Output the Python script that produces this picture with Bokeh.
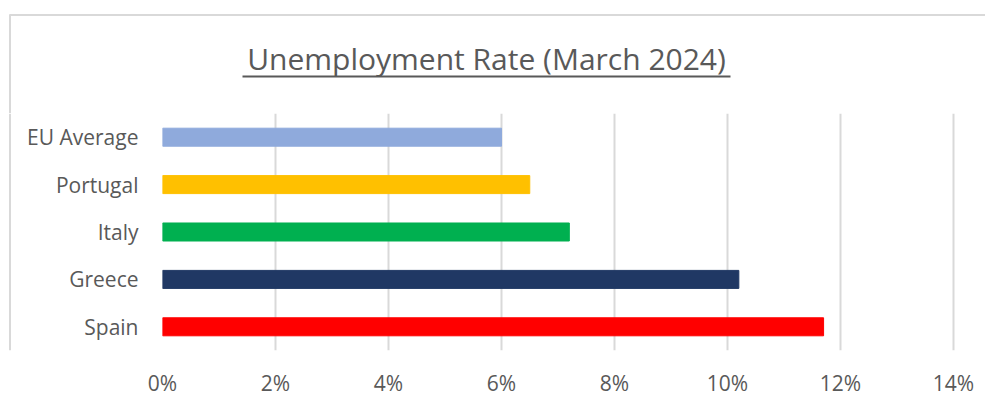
from bokeh.plotting import figure
from bokeh.layouts import column, row
from bokeh.models import ColumnDataSource, FactorRange, Range1d, FixedTicker, CustomJSTickFormatter
from bokeh.core.properties import value
from bokeh.embed import file_html
from bokeh.resources import INLINE

countries = ["Spain", "Greece", "Italy", "Portugal", "EU Average"]
rates = [11.7, 10.2, 7.2, 6.5, 6.0]
colors = ["#FF0000", "#203864", "#00B050", "#FFC000", "#8FAADC"]
x_ticks = [0, 2, 4, 6, 8, 10, 12, 14]
title_text = "Unemployment Rate (March 2024)"

FONT = "Open Sans"
TXT = "#595959"
GRID = "#d9d9d9"

W, H = 985, 400
HEAD_H = 113
STRIP_W = 20
BODY_H = H - HEAD_H


def bare(fig):
    fig.min_border = 0
    fig.outline_line_color = None
    fig.background_fill_color = "white"
    fig.border_fill_color = "white"
    fig.axis.visible = False
    fig.grid.visible = False
    return fig


# header: title, underline and the chart's top/left border
head = bare(figure(width=W, height=HEAD_H, output_backend="svg", toolbar_location=None,
                   x_range=Range1d(0, W), y_range=Range1d(HEAD_H, 0),
                   x_axis_type=None, y_axis_type=None))
head.segment(x0=[9, 9.5], y0=[14.5, 14], x1=[W, 9.5], y1=[14.5, HEAD_H], line_color=GRID, line_width=2)
head.text(x=[486], y=[58], text=[title_text], text_align="center", text_baseline="alphabetic",
          text_font=value(FONT), text_font_size="30px", text_color=TXT)
head.segment(x0=[242], y0=[76], x1=[730], y1=[76], line_color=TXT, line_width=2)

# left strip carrying the border down
strip = bare(figure(width=STRIP_W, height=BODY_H, output_backend="svg", toolbar_location=None,
                    x_range=Range1d(0, STRIP_W), y_range=Range1d(BODY_H, 0),
                    x_axis_type=None, y_axis_type=None))
strip.segment(x0=[9.5], y0=[0], x1=[9.5], y1=[BODY_H], line_color=GRID, line_width=2)

# chart
src = ColumnDataSource(dict(country=countries, rate=rates, color=colors))
p = figure(width=W - STRIP_W, height=BODY_H, output_backend="svg", toolbar_location=None,
           y_range=FactorRange(factors=countries), x_range=Range1d(0, 14.07))
p.min_border_left = 142
p.min_border_right = 28
p.min_border_top = 0
p.min_border_bottom = 50
p.hbar(y="country", right="rate", left=0, height=0.38, color="color", source=src)

p.outline_line_color = None
p.background_fill_color = "white"
p.border_fill_color = "white"

p.xaxis.ticker = FixedTicker(ticks=x_ticks)
p.xaxis.formatter = CustomJSTickFormatter(code="return tick + '%';")
for ax in (p.xaxis[0], p.yaxis[0]):
    ax.axis_line_color = None
    ax.major_tick_line_color = None
    ax.minor_tick_line_color = None
    ax.major_tick_out = 0
    ax.major_tick_in = 0
    ax.minor_tick_out = 0
    ax.major_label_text_font = FONT
    ax.major_label_text_font_size = "21px"
    ax.major_label_text_color = TXT
p.xaxis.major_label_standoff = 18
p.yaxis.major_label_standoff = 24

p.xgrid.ticker = FixedTicker(ticks=x_ticks)
p.xgrid.grid_line_color = GRID
p.xgrid.grid_line_width = 2
p.ygrid.grid_line_color = None

layout = column(head, row(strip, p, spacing=0), spacing=0)
open("out.html", "w").write(file_html(layout, INLINE))
